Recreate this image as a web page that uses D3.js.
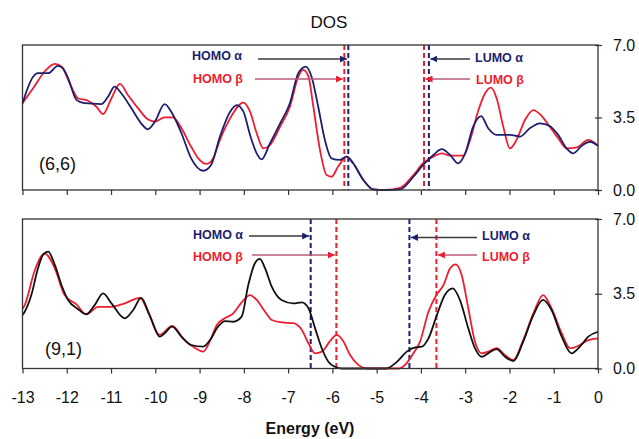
<!DOCTYPE html>
<html>
<head>
<meta charset="utf-8">
<script src="https://cdn.jsdelivr.net/npm/d3@7"></script>
<style>
  html, body { margin: 0; padding: 0; background: #fff; }
  svg { display: block; font-family: "Liberation Sans", Arial, sans-serif; }
</style>
</head>
<body>
<svg id="chart" width="639" height="439"></svg>
<script>
// Energy ticks and DOS ticks
const energyTicks = d3.range(-13, 1);
const dosTicks = [0, 3.5, 7];

// (6,6) tube: [energy eV, DOS]
const dos66Alpha = [
  [-13, 4.19], [-12.76, 5.47], [-12.65, 5.64], [-12.42, 5.64], [-12.2, 5.99], [-12.09, 5.88],
  [-11.97, 5.4], [-11.78, 4.35], [-11.6, 4.19], [-11.22, 4.15], [-11.07, 4.5], [-10.92, 4.99],
  [-10.77, 4.67], [-10.54, 3.95], [-10.32, 3.22], [-10.17, 2.93], [-10.01, 3.3], [-9.79, 4.15],
  [-9.64, 3.78], [-9.41, 2.74], [-9.19, 1.53], [-8.92, 0.93], [-8.74, 1.21], [-8.54, 2.58],
  [-8.31, 3.78], [-8.16, 4.1], [-8.01, 3.78], [-7.86, 2.66], [-7.71, 1.77], [-7.6, 1.48],
  [-7.41, 2.25], [-7.18, 3.22], [-6.96, 4.19], [-6.77, 5.64], [-6.6, 5.96], [-6.47, 5.47],
  [-6.32, 4.02], [-6.17, 2.42], [-6.02, 1.53], [-5.83, 1.45], [-5.68, 1.61], [-5.53, 1.29],
  [-5.3, 0.48], [-5.08, 0.03], [-4.8, 0], [-4.47, 0.03], [-4.17, 0.64], [-3.95, 1.21],
  [-3.72, 1.69], [-3.53, 1.97], [-3.34, 1.69], [-3.16, 1.29], [-3.0, 1.77], [-2.82, 3.06],
  [-2.64, 3.57], [-2.48, 2.98], [-2.29, 2.66], [-1.99, 2.66], [-1.76, 2.58], [-1.54, 2.98],
  [-1.31, 3.22], [-1.09, 3.09], [-0.9, 2.66], [-0.71, 2.01], [-0.56, 1.77], [-0.37, 2.13],
  [-0.18, 2.33], [0, 2.13]
];
const dos66Beta = [
  [-13, 4.19], [-12.76, 4.91], [-12.5, 5.72], [-12.27, 6.09], [-12.12, 5.96], [-11.9, 4.99],
  [-11.75, 4.43], [-11.52, 4.31], [-11.33, 4.02], [-11.18, 3.67], [-10.99, 4.43], [-10.8, 5.12],
  [-10.62, 4.59], [-10.39, 3.95], [-10.17, 3.41], [-10.01, 3.3], [-9.79, 3.51], [-9.6, 3.51],
  [-9.41, 2.98], [-9.19, 2.09], [-9.0, 1.45], [-8.85, 1.26], [-8.7, 1.5], [-8.54, 2.42],
  [-8.31, 3.46], [-8.01, 4.22], [-7.86, 3.78], [-7.71, 2.74], [-7.56, 2.01], [-7.41, 2.17],
  [-7.18, 3.06], [-6.96, 4.02], [-6.77, 5.47], [-6.66, 5.8], [-6.54, 5.47], [-6.43, 4.02],
  [-6.28, 1.93], [-6.13, 0.72], [-6.02, 0.64], [-5.87, 1.13], [-5.68, 1.61], [-5.53, 1.29],
  [-5.3, 0.48], [-5.08, 0.03], [-4.8, 0], [-4.47, 0.1], [-4.17, 0.72], [-3.95, 1.29],
  [-3.72, 1.61], [-3.53, 1.77], [-3.34, 1.66], [-3.04, 1.66], [-2.89, 2.42], [-2.7, 3.86],
  [-2.55, 4.67], [-2.42, 4.94], [-2.29, 4.43], [-2.14, 3.06], [-1.99, 2.01], [-1.84, 2.42],
  [-1.65, 3.38], [-1.46, 3.86], [-1.27, 3.57], [-1.09, 3.06], [-0.9, 2.5], [-0.71, 2.01],
  [-0.48, 2.06], [-0.22, 2.42], [0, 2.13]
];

// (9,1) tube: [energy eV, DOS]
const dos91Alpha = [
  [-13, 2.5], [-12.95, 2.66], [-12.8, 3.44], [-12.65, 4.69], [-12.54, 5.31], [-12.42, 5.47],
  [-12.27, 4.85], [-12.12, 3.91], [-11.97, 3.21], [-11.75, 2.79], [-11.56, 2.54], [-11.37, 2.97],
  [-11.18, 3.52], [-10.99, 3.05], [-10.69, 2.35], [-10.5, 2.74], [-10.32, 3.31], [-10.13, 2.5],
  [-9.9, 1.49], [-9.79, 1.65], [-9.62, 1.96], [-9.41, 1.49], [-9.19, 1.1], [-8.92, 1.02],
  [-8.74, 1.41], [-8.61, 1.88], [-8.43, 2.22], [-8.24, 2.19], [-8.05, 2.43], [-7.9, 3.91],
  [-7.75, 4.93], [-7.64, 5.13], [-7.52, 4.69], [-7.37, 3.83], [-7.15, 3.21], [-6.88, 3.05],
  [-6.69, 3.1], [-6.54, 2.82], [-6.39, 1.88], [-6.24, 0.95], [-6.09, 0.32], [-5.94, 0.08],
  [-5.79, 0], [-4.78, 0], [-4.55, 0.3], [-4.32, 0.79], [-4.17, 0.97], [-3.98, 1.02],
  [-3.83, 1.41], [-3.64, 2.5], [-3.46, 3.44], [-3.28, 3.75], [-3.12, 3.21], [-2.93, 1.88],
  [-2.78, 0.95], [-2.63, 0.55], [-2.48, 0.71], [-2.29, 0.91], [-2.1, 0.55], [-1.91, 0.35],
  [-1.69, 1.26], [-1.46, 2.5], [-1.24, 3.21], [-1.05, 2.74], [-0.82, 1.49], [-0.6, 0.71],
  [-0.41, 1.02], [-0.22, 1.49], [0, 1.72]
];
const dos91Beta = [
  [-13, 2.8], [-12.95, 2.97], [-12.72, 4.61], [-12.5, 5.39], [-12.27, 4.69], [-12.05, 3.44],
  [-11.78, 3.0], [-11.56, 2.54], [-11.29, 2.89], [-10.99, 2.89], [-10.69, 3.05], [-10.35, 3.31],
  [-10.13, 2.5], [-9.9, 1.57], [-9.62, 2.0], [-9.34, 1.33], [-9.11, 0.97], [-8.92, 0.79],
  [-8.74, 1.41], [-8.61, 2.04], [-8.43, 2.35], [-8.24, 2.58], [-8.05, 3.1], [-7.86, 3.44],
  [-7.71, 3.21], [-7.52, 2.66], [-7.37, 2.27], [-7.15, 2.16], [-6.88, 2.12], [-6.69, 1.8],
  [-6.54, 1.18], [-6.39, 0.71], [-6.24, 0.79], [-6.05, 1.29], [-5.9, 1.57], [-5.75, 1.26],
  [-5.6, 0.63], [-5.41, 0.16], [-5.22, 0], [-4.5, 0], [-4.32, 0.25], [-4.17, 0.71],
  [-4.02, 1.26], [-3.83, 2.66], [-3.65, 3.44], [-3.49, 3.91], [-3.34, 4.69], [-3.21, 4.88],
  [-3.08, 4.38], [-2.93, 2.82], [-2.78, 1.26], [-2.63, 0.71], [-2.48, 0.79], [-2.29, 0.95],
  [-2.1, 0.63], [-1.91, 0.4], [-1.69, 1.33], [-1.46, 2.58], [-1.24, 3.44], [-1.05, 2.82],
  [-0.82, 1.65], [-0.63, 0.95], [-0.41, 1.1], [-0.22, 1.33], [0, 1.41]
];

// Frontier orbital energies (eV)
const frontier66 = { homoAlpha: -5.64, homoBeta: -5.73, lumoAlpha: -3.82, lumoBeta: -3.93 };
const frontier91 = { homoAlpha: -6.49, homoBeta: -5.91, lumoAlpha: -4.26, lumoBeta: -3.65 };

const NAVY = "#1c1f6e";
const RED = "#ee1d2f";
const ARROW_A = "#3a3a3a";
const ARROW_B = "#b45c78";

const svg = d3.select("#chart");

const x = d3.scaleLinear().domain([-13, 0]).range([22.5, 598]);

// arrowheads
const defs = svg.append("defs");
[["head-navy", NAVY], ["head-red", RED]].forEach(([id, c]) => {
  defs.append("marker")
    .attr("id", id).attr("viewBox", "0 0 10 10")
    .attr("refX", 10).attr("refY", 5)
    .attr("markerWidth", 7).attr("markerHeight", 7)
    .attr("markerUnits", "userSpaceOnUse")
    .attr("orient", "auto")
    .append("path").attr("d", "M0,0 L10,5 L0,10 Z").attr("fill", c);
});

svg.append("text")
  .attr("x", 329).attr("y", 28)
  .attr("text-anchor", "middle")
  .attr("font-size", 17).attr("fill", "#111")
  .text("DOS");

function drawPanel(cfg) {
  const y = d3.scaleLinear().domain([0, 7]).range([cfg.bottom, cfg.top]);
  const g = svg.append("g");

  const line = d3.line()
    .x(d => x(d[0])).y(d => y(d[1]))
    .curve(d3.curveMonotoneX);

  // frontier orbital markers
  const vlines = [
    { e: cfg.frontier.homoBeta, c: RED },
    { e: cfg.frontier.homoAlpha, c: NAVY },
    { e: cfg.frontier.lumoBeta, c: RED },
    { e: cfg.frontier.lumoAlpha, c: NAVY }
  ];
  g.selectAll(".vl").data(vlines).join("line")
    .attr("x1", d => x(d.e)).attr("x2", d => x(d.e))
    .attr("y1", cfg.top).attr("y2", cfg.bottom)
    .attr("stroke", d => d.c).attr("stroke-width", 2)
    .attr("stroke-dasharray", "5,3");

  g.append("path").datum(cfg.beta)
    .attr("d", line).attr("fill", "none")
    .attr("stroke", RED).attr("stroke-width", 1.8);
  g.append("path").datum(cfg.alpha)
    .attr("d", line).attr("fill", "none")
    .attr("stroke", cfg.alphaColor).attr("stroke-width", 1.8);

  // frame
  g.append("rect")
    .attr("x", x(-13)).attr("y", cfg.top)
    .attr("width", x(0) - x(-13)).attr("height", cfg.bottom - cfg.top)
    .attr("fill", "none").attr("stroke", "#333").attr("stroke-width", 1.3);

  // bottom axis (plain hyphen-minus labels)
  const xa = g.append("g")
    .attr("transform", `translate(0,${cfg.bottom})`)
    .call(d3.axisBottom(x).tickValues(energyTicks).tickSize(5).tickSizeOuter(0)
      .tickFormat(cfg.showLabels ? (d => String(d)) : () => ""));
  xa.select(".domain").remove();
  xa.selectAll(".tick line").attr("stroke", "#333").attr("stroke-width", 1.2);
  xa.selectAll(".tick text").attr("font-size", 16).attr("fill", "#111")
    .attr("font-family", "Liberation Sans, Arial, sans-serif")
    .attr("dy", null).attr("y", 34);

  // right axis
  const ya = g.append("g")
    .attr("transform", `translate(${x(0)},0)`)
    .call(d3.axisRight(y).tickValues(dosTicks).tickSize(4).tickPadding(11)
      .tickFormat(d3.format(".1f")));
  ya.select(".domain").remove();
  ya.selectAll(".tick line").attr("stroke", "#333").attr("stroke-width", 1.2).attr("x1", -3);
  ya.selectAll(".tick text").attr("font-size", 16).attr("fill", "#111")
    .attr("font-family", "Liberation Sans, Arial, sans-serif");

  // panel label
  g.append("text")
    .attr("x", cfg.labelX).attr("y", cfg.labelY)
    .attr("font-size", 18).attr("fill", "#111")
    .text(cfg.label);

  // annotations
  cfg.notes.forEach(n => {
    g.append("line")
      .attr("x1", n.from).attr("x2", x(n.e) + (n.dir > 0 ? -1.5 : 1.5))
      .attr("y1", n.y).attr("y2", n.y)
      .attr("stroke", n.lineColor).attr("stroke-width", 1.4)
      .attr("marker-end", `url(#${n.head})`);
    g.append("text")
      .attr("x", n.tx).attr("y", n.ty)
      .attr("font-size", 12.5).attr("font-weight", "bold")
      .attr("fill", n.color)
      .text(n.text);
  });
}

drawPanel({
  top: 45, bottom: 190, alpha: dos66Alpha, beta: dos66Beta, alphaColor: NAVY,
  frontier: frontier66, showLabels: false, label: "(6,6)", labelX: 39, labelY: 170,
  notes: [
    { text: "HOMO α", color: NAVY, tx: 192, ty: 60, from: 258, y: 59, e: frontier66.homoAlpha, dir: 1, lineColor: ARROW_A, head: "head-navy" },
    { text: "HOMO β", color: RED, tx: 193, ty: 83, from: 255, y: 79, e: frontier66.homoBeta, dir: 1, lineColor: ARROW_B, head: "head-red" },
    { text: "LUMO α", color: NAVY, tx: 475, ty: 62, from: 470, y: 59, e: frontier66.lumoAlpha, dir: -1, lineColor: ARROW_A, head: "head-navy" },
    { text: "LUMO β", color: RED, tx: 476, ty: 84, from: 470, y: 79, e: frontier66.lumoBeta, dir: -1, lineColor: ARROW_B, head: "head-red" }
  ]
});

drawPanel({
  top: 219, bottom: 368.5, alpha: dos91Alpha, beta: dos91Beta, alphaColor: "#111",
  frontier: frontier91, showLabels: true, label: "(9,1)", labelX: 45, labelY: 355,
  notes: [
    { text: "HOMO α", color: NAVY, tx: 193, ty: 239, from: 249, y: 236, e: frontier91.homoAlpha, dir: 1, lineColor: ARROW_A, head: "head-navy" },
    { text: "HOMO β", color: RED, tx: 193, ty: 261, from: 252, y: 255, e: frontier91.homoBeta, dir: 1, lineColor: ARROW_B, head: "head-red" },
    { text: "LUMO α", color: NAVY, tx: 482, ty: 240, from: 477, y: 237.5, e: frontier91.lumoAlpha, dir: -1, lineColor: ARROW_A, head: "head-navy" },
    { text: "LUMO β", color: RED, tx: 482, ty: 261, from: 477, y: 255, e: frontier91.lumoBeta, dir: -1, lineColor: ARROW_B, head: "head-red" }
  ]
});

svg.append("text")
  .attr("x", 310).attr("y", 434)
  .attr("text-anchor", "middle")
  .attr("font-size", 16).attr("font-weight", "bold").attr("fill", "#111")
  .text("Energy (eV)");
</script>
</body>
</html>
